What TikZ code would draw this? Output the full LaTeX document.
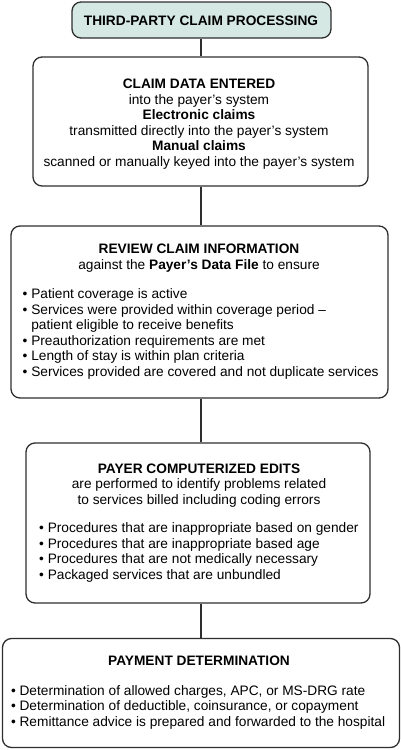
\documentclass[tikz,border=0pt]{standalone}
\usepackage{fontspec}
\setmainfont{Liberation Sans}
\definecolor{titlefill}{HTML}{D5E8E3}
\definecolor{edge}{HTML}{2E2E2E}
\begin{document}
\begin{tikzpicture}[x=1pt,y=-1pt,
  box/.style={draw=edge, line width=1.3pt, rounded corners=9pt, inner sep=0pt},
  txt/.style={inner sep=0pt, font=\fontsize{13.7}{15.5}\selectfont, text=black},
  ctxt/.style={txt, align=center, anchor=base},
  ltxt/.style={txt, align=left, anchor=base west},
  link/.style={draw=edge, line width=1.3pt}]
\useasboundingbox (0,0) rectangle (401,750);
% boxes
\node[box, fill=titlefill, minimum width=259pt, minimum height=36pt] (b1) at (201.5,20) {};
\node[box, minimum width=335pt, minimum height=129pt] (b2) at (200.5,121.5) {};
\node[box, minimum width=377pt, minimum height=172pt] (b3) at (199.5,312) {};
\node[box, minimum width=344pt, minimum height=160pt] (b4) at (198,523) {};
\node[box, minimum width=397pt, minimum height=109pt] (b5) at (201,693) {};
% texts (base anchor = baseline of the last line)
\node[ctxt, font=\fontsize{13.7}{15.5}\selectfont\bfseries] (t1) at (201,25) {THIRD-PARTY CLAIM PROCESSING};
\node[ctxt] (t2) at (199,166) {\textbf{CLAIM DATA ENTERED}\\
  into the payer’s system\\
  \textbf{Electronic claims}\\
  transmitted directly into the payer’s system\\
  \textbf{Manual claims}\\
  scanned or manually keyed into the payer’s system};
\node[ctxt] (t3) at (199,269) {\textbf{REVIEW CLAIM INFORMATION}\\
  against the \textbf{Payer’s Data File} to ensure};
\node[ltxt] (l3) at (22.5,376) {\textbullet\ Patient coverage is active\\
  \textbullet\ Services were provided within coverage period –\\
  \phantom{\textbullet\ }patient eligible to receive benefits\\
  \textbullet\ Preauthorization requirements are met\\
  \textbullet\ Length of stay is within plan criteria\\
  \textbullet\ Services provided are covered and not duplicate services};
\node[ctxt] (t4) at (199,504) {\textbf{PAYER COMPUTERIZED EDITS}\\
  are performed to identify problems related\\
  to services billed including coding errors};
\node[ltxt] (l4) at (39,579) {\textbullet\ Procedures that are inappropriate based on gender\\
  \textbullet\ Procedures that are inappropriate based age\\
  \textbullet\ Procedures that are not medically necessary\\
  \textbullet\ Packaged services that are unbundled};
\node[ctxt] (t5) at (199,665) {\textbf{PAYMENT DETERMINATION}};
\node[ltxt] (l5) at (10.8,726) {\textbullet\ Determination of allowed charges, APC, or MS-DRG rate\\
  \textbullet\ Determination of deductible, coinsurance, or copayment\\
  \textbullet\ Remittance advice is prepared and forwarded to the hospital};
% connectors
\coordinate (cx) at (201,0);
\draw[link] (b1.south -| cx) -- (b2.north -| cx);
\draw[link] (b2.south -| cx) -- (b3.north -| cx);
\draw[link] (b3.south -| cx) -- (b4.north -| cx);
\draw[link] (b4.south -| cx) -- (b5.north -| cx);
\end{tikzpicture}
\end{document}
